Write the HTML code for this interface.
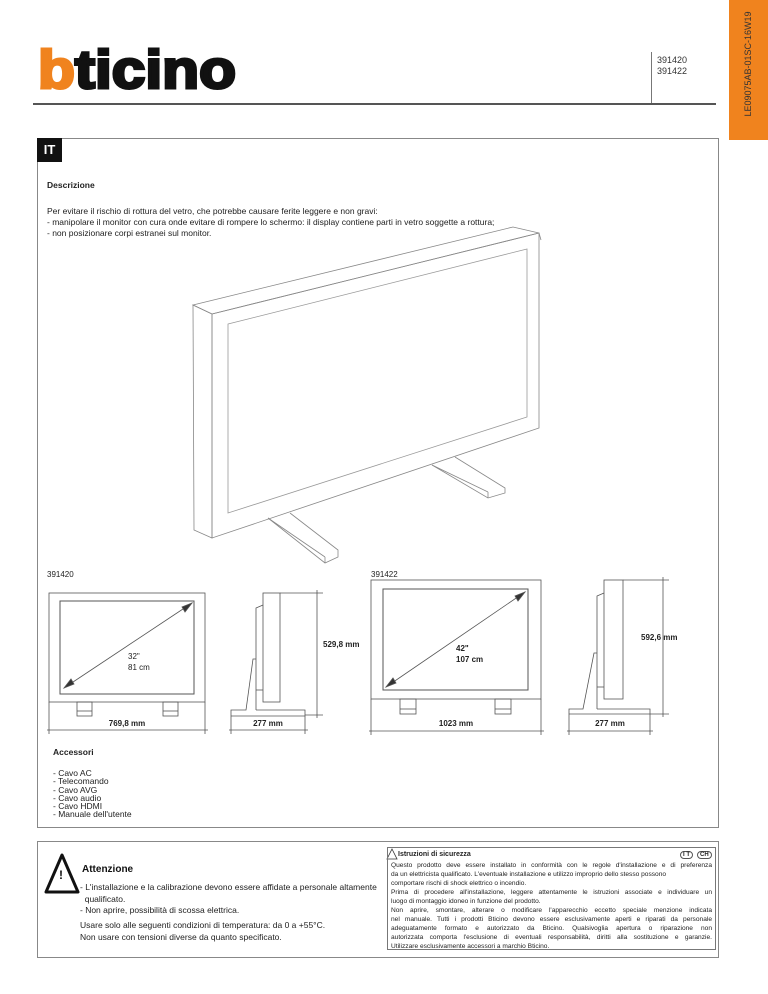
<!DOCTYPE html>
<html><head><meta charset="utf-8"><style>
*{margin:0;padding:0;box-sizing:border-box}
body{width:768px;height:994px;background:#fff;position:relative;overflow:hidden;font-family:"Liberation Sans",sans-serif;color:#222}
.a{position:absolute;white-space:nowrap}
.s{font-size:8.5px;line-height:11px}
.j{text-align:justify;text-align-last:justify;white-space:nowrap;overflow:hidden}
</style></head><body>
<div class="a" style="left:729px;top:0;width:39px;height:140px;background:#f0831e"></div>
<div class="a" style="left:748px;top:64px;transform:translate(-50%,-50%) rotate(-90deg);font-size:9px;color:#333">LE09075AB-01SC-16W19</div>
<svg class="a" style="left:0;top:0" width="260" height="100">
<text x="38" y="88" font-family="Liberation Sans" font-weight="bold" font-size="54" textLength="198" lengthAdjust="spacingAndGlyphs" stroke-width="3" stroke-linejoin="miter"><tspan fill="#f0831e" stroke="#f0831e">b</tspan><tspan fill="#111" stroke="#111">ticino</tspan></text>
</svg>
<div class="a" style="left:651px;top:52px;width:1px;height:52px;background:#777"></div>
<div class="a" style="left:33px;top:103px;width:683px;height:2px;background:#555"></div>
<div class="a" style="left:657px;top:55px;font-size:9px;line-height:11px;color:#333">391420<br>391422</div>

<div class="a" style="left:37px;top:138px;width:682px;height:690px;border:1px solid #888"></div>
<div class="a" style="left:37px;top:138px;width:25px;height:24px;background:#111;color:#fff;font-weight:bold;font-size:13px;line-height:24px;text-align:center">IT</div>
<div class="a s" style="left:47px;top:180px;font-weight:bold">Descrizione</div>
<div class="a s" style="left:47px;top:206px">Per evitare il rischio di rottura del vetro, che potrebbe causare ferite leggere e non gravi:<br>- manipolare il monitor con cura onde evitare di rompere lo schermo: il display contiene parti in vetro soggette a rottura;<br>- non posizionare corpi estranei sul monitor.</div>

<svg class="a" style="left:0;top:0" width="768" height="994" fill="none" stroke="#555" stroke-width="0.8">
<!-- iso monitor -->
<polygon points="193,305 513,227 539,233 212,314" stroke="#888"/>
<polygon points="193,305 212,314 212,538 194,530" stroke="#888"/>
<polygon points="212,314 539,233 539,428 212,538" stroke="#888"/>
<line x1="539" y1="233" x2="541" y2="240" stroke="#888"/>
<polygon points="228,324 527,249 527,417 228,513" stroke="#999"/>
<polyline points="268,518 325,563 338,557 338,550 290,513" stroke="#888"/>
<line x1="325" y1="563" x2="325" y2="557" stroke="#888"/><line x1="268" y1="518" x2="325" y2="557" stroke="#888"/>
<polyline points="432,465 488,498 505,493 505,488 455,457" stroke="#888"/>
<line x1="488" y1="498" x2="488" y2="492" stroke="#888"/><line x1="432" y1="465" x2="488" y2="492" stroke="#888"/>
<!-- 391420 front -->
<rect x="49" y="593" width="156" height="109"/>
<rect x="60" y="601" width="134" height="93" stroke-width="1"/>
<rect x="77" y="702" width="15" height="14"/><rect x="163" y="702" width="15" height="14"/>
<line x1="77" y1="711" x2="92" y2="711"/><line x1="163" y1="711" x2="178" y2="711"/>
<line x1="49" y1="702" x2="49" y2="734"/><line x1="205" y1="702" x2="205" y2="734"/>
<line x1="47" y1="730" x2="208" y2="730"/>
<line x1="64" y1="688" x2="192" y2="603"/>
<polygon points="64,688 71,679 74,684" fill="#333"/><polygon points="192,603 182,607 185,612" fill="#333"/>
<!-- 391420 side -->
<rect x="263" y="593" width="17" height="109"/>
<polyline points="263,605 256,608 256,710"/><line x1="256" y1="690" x2="263" y2="690"/>
<polyline points="231,716 231,710 246,710 253,659 256,659"/>
<polyline points="256,710 305,710 305,716 231,716"/>
<line x1="231" y1="716" x2="231" y2="734"/><line x1="305" y1="716" x2="305" y2="734"/>
<line x1="229" y1="730" x2="308" y2="730"/>
<line x1="280" y1="593" x2="323" y2="593"/><line x1="305" y1="715" x2="323" y2="715"/>
<line x1="317" y1="590" x2="317" y2="718"/>
<!-- 391422 front -->
<rect x="371" y="580" width="170" height="119"/>
<rect x="383" y="589" width="145" height="101" stroke-width="1"/>
<rect x="400" y="699" width="16" height="15"/><rect x="495" y="699" width="16" height="15"/>
<line x1="400" y1="709" x2="416" y2="709"/><line x1="495" y1="709" x2="511" y2="709"/>
<line x1="371" y1="699" x2="371" y2="735"/><line x1="541" y1="699" x2="541" y2="735"/>
<line x1="369" y1="731" x2="544" y2="731"/>
<line x1="386" y1="687" x2="525" y2="592"/>
<polygon points="386,687 393,678 396,683" fill="#333"/><polygon points="525,592 515,596 518,601" fill="#333"/>
<!-- 391422 side -->
<rect x="604" y="580" width="19" height="119"/>
<polyline points="604,593 597,596 597,709"/><line x1="597" y1="687" x2="604" y2="687"/>
<polyline points="569,714 569,709 583,709 594,653 597,653"/>
<polyline points="597,709 650,709 650,714 569,714"/>
<line x1="569" y1="714" x2="569" y2="735"/><line x1="650" y1="714" x2="650" y2="735"/>
<line x1="567" y1="731" x2="653" y2="731"/>
<line x1="623" y1="580" x2="669" y2="580"/><line x1="650" y1="714" x2="669" y2="714"/>
<line x1="663" y1="577" x2="663" y2="717"/>
<!-- warning icon -->
<polygon points="62,855 78,892 46,892" stroke="#111" stroke-width="3" stroke-linejoin="round"/>
<polygon points="392,849 397,859 387,859" stroke="#333" stroke-width="0.8"/>
</svg>
<div class="a" style="left:47px;top:570px;font-size:8px">391420</div>
<div class="a" style="left:371px;top:570px;font-size:8px">391422</div>
<div class="a" style="left:127px;top:719px;transform:translateX(-50%);font-size:8px;font-weight:bold">769,8 mm</div>
<div class="a" style="left:268px;top:719px;transform:translateX(-50%);font-size:8px;font-weight:bold">277 mm</div>
<div class="a" style="left:456px;top:719px;transform:translateX(-50%);font-size:8px;font-weight:bold">1023 mm</div>
<div class="a" style="left:610px;top:719px;transform:translateX(-50%);font-size:8px;font-weight:bold">277 mm</div>
<div class="a" style="left:323px;top:640px;font-size:8px;font-weight:bold">529,8 mm</div>
<div class="a" style="left:641px;top:633px;font-size:8px;font-weight:bold">592,6 mm</div>
<div class="a" style="left:128px;top:651px;font-size:8px;line-height:11px">32"<br>81 cm</div>
<div class="a" style="left:456px;top:643px;font-size:8px;line-height:11px;font-weight:bold">42"<br>107 cm</div>
<div class="a" style="left:59px;top:868px;font-size:12px;font-weight:bold;color:#111;line-height:14px">!</div>

<div class="a s" style="left:53px;top:747px;font-weight:bold">Accessori</div>
<div class="a" style="left:53px;top:769px;font-size:8.5px;line-height:8.3px">- Cavo AC<br>- Telecomando<br>- Cavo AVG<br>- Cavo audio<br>- Cavo HDMI<br>- Manuale dell'utente</div>

<div class="a" style="left:37px;top:841px;width:682px;height:117px;border:1px solid #888"></div>
<div class="a" style="left:82px;top:864px;font-size:10px;font-weight:bold;color:#111">Attenzione</div>
<div class="a s" style="left:80px;top:882px;line-height:11.5px">- L'installazione e la calibrazione devono essere affidate a personale altamente<br>&nbsp;&nbsp;qualificato.<br>- Non aprire, possibilità di scossa elettrica.</div>
<div class="a s" style="left:80px;top:920px;line-height:11.5px">Usare solo alle seguenti condizioni di temperatura: da 0 a +55°C.<br>Non usare con tensioni diverse da quanto specificato.</div>

<div class="a" style="left:387px;top:847px;width:329px;height:103px;border:1px solid #777"></div>
<div class="a" style="left:398px;top:851px;font-size:7px;font-weight:bold">Istruzioni di sicurezza</div>
<div class="a" style="left:680px;top:851px;font-size:6px;font-weight:bold;border:1px solid #555;border-radius:5px;padding:0 2px">I T</div>
<div class="a" style="left:697px;top:851px;font-size:6px;font-weight:bold;border:1px solid #555;border-radius:5px;padding:0 2px">CH</div>
<div class="a" style="left:391px;top:861px;width:321px;font-size:6.6px;line-height:9px">
<div class="j">Questo prodotto deve essere installato in conformità con le regole d'installazione e di preferenza</div>
<div style="white-space:nowrap">da un elettricista qualificato. L'eventuale installazione e utilizzo improprio dello stesso possono</div>
<div>comportare rischi di shock elettrico o incendio.</div>
<div class="j">Prima di procedere all'installazione, leggere attentamente le istruzioni associate e individuare un</div>
<div>luogo di montaggio idoneo in funzione del prodotto.</div>
<div class="j">Non aprire, smontare, alterare o modificare l'apparecchio eccetto speciale menzione indicata</div>
<div class="j">nel manuale. Tutti i prodotti Bticino devono essere esclusivamente aperti e riparati da personale</div>
<div class="j">adeguatamente formato e autorizzato da Bticino. Qualsivoglia apertura o riparazione non</div>
<div class="j">autorizzata comporta l'esclusione di eventuali responsabilità, diritti alla sostituzione e garanzie.</div>
<div>Utilizzare esclusivamente accessori a marchio Bticino.</div>
</div>
</body></html>
